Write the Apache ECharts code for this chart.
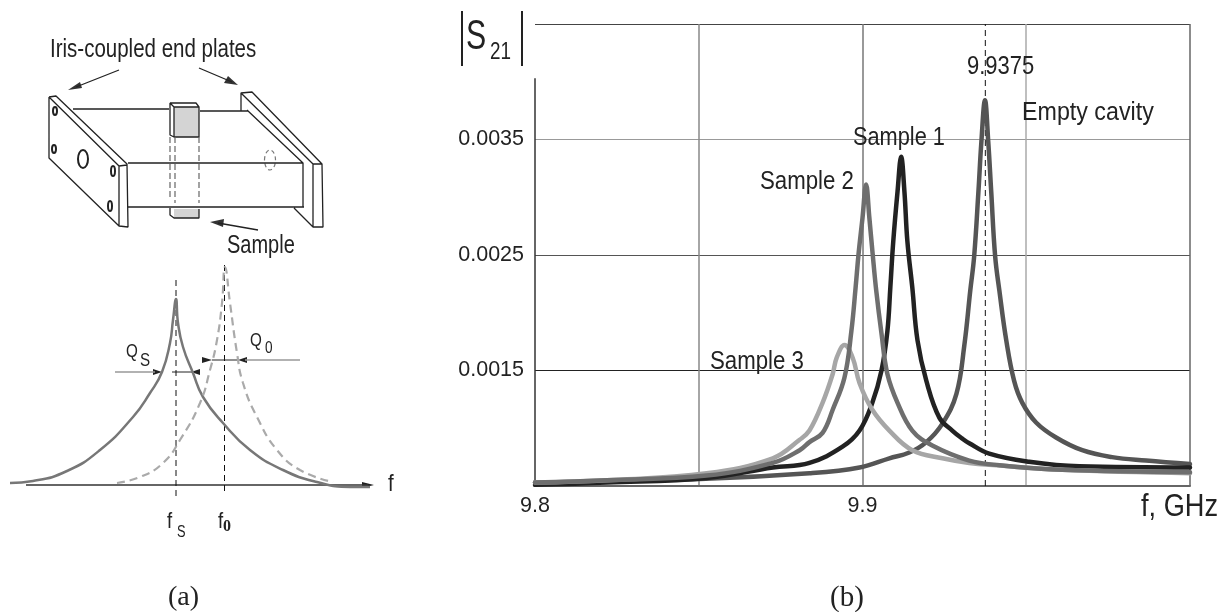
<!DOCTYPE html>
<html><head><meta charset="utf-8">
<style>html,body{margin:0;padding:0;background:#fff}#c{width:1229px;height:612px}</style>
<script src="https://cdn.jsdelivr.net/npm/echarts@6/dist/echarts.min.js"></script>
</head><body><div id="c"></div>
<script>
// ---- Panel (b): measured resonance curves
const emptyF = [9.8,9.8503,9.8838,9.8991,9.9082,9.9143,9.9195,9.9244,9.9287,9.9311,9.9329,9.9341,9.9354,9.9363,9.9374,9.9384,9.9393,9.9405,9.9418,9.9439,9.9463,9.9488,9.953,9.9591,9.9671,9.9762,9.9866,10];
const emptyS = [0.00053,0.00056,0.00061,0.00066,0.00074,0.00079,0.00088,0.00104,0.0013,0.00172,0.00219,0.00249,0.00305,0.00348,0.00384,0.00348,0.00305,0.00249,0.00219,0.00176,0.00141,0.00122,0.00105,0.00092,0.00081,0.00075,0.00072,0.00069];
const sample1F = [9.8,9.822,9.8524,9.8726,9.8838,9.8939,9.8991,9.903,9.9058,9.9076,9.9085,9.9094,9.9107,9.9118,9.9128,9.9137,9.9152,9.9168,9.9195,9.9235,9.9274,9.9305,9.9326,9.9387,9.9509,9.9662,10];
const sample1S = [0.00051,0.00053,0.00057,0.00066,0.0007,0.00084,0.00098,0.00122,0.0015,0.00184,0.00222,0.00262,0.00305,0.00335,0.00305,0.00262,0.00222,0.00176,0.00141,0.00109,0.00098,0.00091,0.00087,0.00078,0.00071,0.00067,0.00066];
const sample2F = [9.8,9.822,9.8524,9.8726,9.8808,9.8838,9.8878,9.8909,9.8945,9.8966,9.8979,9.8988,9.9,9.9011,9.9021,9.9031,9.9042,9.9058,9.9076,9.9107,9.9152,9.9213,9.9326,9.9418,9.961,10];
const sample2S = [0.00053,0.00055,0.00059,0.0007,0.00081,0.00088,0.00096,0.00116,0.00144,0.00184,0.00222,0.00251,0.00282,0.00311,0.00282,0.00251,0.00219,0.00182,0.00147,0.00122,0.00098,0.00085,0.00072,0.00068,0.00064,0.00062];
const sample3F = [9.8,9.822,9.8524,9.8726,9.8808,9.8838,9.8878,9.8909,9.8921,9.8945,9.897,9.8991,9.903,9.9082,9.9152,9.9244,9.9326,9.9409,9.961,10];
const sample3S = [0.00053,0.00055,0.00061,0.00074,0.0009,0.00098,0.00122,0.00147,0.00161,0.00172,0.00161,0.00139,0.00116,0.00098,0.00081,0.00074,0.0007,0.00068,0.00064,0.00061];
const markerF = 9.9375;
const yAxisTop = 0.00403;
const xTickLabels = ['9.8','9.9'];
const yTickLabels = ['0.0015','0.0025','0.0035'];
const seriesColors = {empty:'#555555',s1:'#222222',s2:'#6e6e6e',s3:'#a6a6a6'};

// ---- Panel (a): schematic drawing, in page units
const curveSolid = [[10,483],[33,481],[67,471],[100,450],[133,417],[150,393],[162,372],[170,343],[173,320],[176,299],[178,323],[183,347],[193,373],[203,397],[223,423],[250,450],[283,470],[317,482],[350,487],[370,487]];
const curveDashed = [[117,483],[140,477],[163,463],[180,440],[200,403],[210,370],[217,340],[222,303],[225,267],[230,303],[237,353],[243,383],[257,417],[277,450],[300,470],[333,482]];
const guides = [[[176,280],[176,497]],[[224.5,265],[224.5,494]]];
const baseLine = [[26,485],[368,485]];
const outline = [
 [[49,97],[56,96],[127,164],[128,227],[119,226],[49,158],[49,97]],
 [[49,97],[119,166],[119,226]],[[119,166],[127,165]],
 [[241,111],[241,93],[252,92],[322,164],[323,227],[313,227],[313,164],[241,93]],
 [[322,164],[313,164]],[[247,110],[303,163],[303,207]],[[294,208],[313,227]],
 [[73,109],[169,109]],[[200,111],[248,111]],[[128,163],[303,163]],[[128,207],[304,207]],
 [[170,103],[196,103],[199,107],[199,137],[174,137],[174,107],[170,103],[170,135],[174,137]],[[174,107],[199,107]],
 [[170,208],[170,215],[174,218],[199,218],[199,209]],
 [[119,70],[76,87]],[[199,68],[232,82]],[[258,230],[218,223]]
];
const hiddenEdges = [[[170,137],[170,200]],[[175,137],[175,203]],[[199,137],[199,203]]];
const qGrayLines = [[[115,372],[155,372]],[[245,360],[300,360]]];
const qBlackLines = [[[172,372],[192,372]],[[212,360],[238,360]]];
const solids = [
 {c:'#d4d4d4',p:[[174,107],[199,107],[199,137],[174,137]]},
 {c:'#d4d4d4',p:[[174,209],[199,209],[199,218],[174,218]]},
 {c:'#333',p:[[68,90],[80,82],[82,88]]},
 {c:'#333',p:[[238,85],[224,83],[228,76]]},
 {c:'#333',p:[[210,222],[224,219],[223,227]]},
 {c:'#222',p:[[374,485],[362,482],[362,488]]},
 {c:'#222',p:[[162,372],[153,369],[153,375]]},
 {c:'#222',p:[[191,372],[200,369],[200,375]]},
 {c:'#222',p:[[212,360],[202,357],[202,363]]},
 {c:'#222',p:[[238,360],[247,357],[247,363]]}
];
const holes = [[55,111,2,4,0],[54,149,2,4,0],[83,159,5,9,0],[113,171,2,5,0],[110,206,2,5,0],[270,160,5.5,10,1]];

const sans = '"Liberation Sans",sans-serif';
const serif = '"Liberation Serif",serif';
// text, x, y, size, horizontal squeeze, family
const texts = [
 ['Iris-coupled end plates',50,50,25,0.82,sans],['Sample',227,246,25,0.8,sans],
 ['Q',126,352,19,0.8,sans],['S',140,361,19,0.8,sans],['Q',250,341,19,0.8,sans],['0',265,348,17,0.8,sans],
 ['f',388,484,24,0.85,sans],['f',167,522,22,0.85,sans],['S',177,533,16,0.8,sans],['f',218,522,22,0.85,sans],
 ['(a)',168,598,28,1,serif],['(b)',830,598,29,1,serif],
 ['S',466,37,42,0.72,sans],['21',490,53,23,0.82,sans],
 ['9.9375',967,67,25,0.88,sans],['Empty cavity',1022,113,25,0.93,sans],['Sample 1',853,138,25,0.87,sans],
 ['Sample 2',760,182,25,0.89,sans],['Sample 3',710,362,25,0.89,sans],['f, GHz',1141,507,32,0.85,sans]
];
const bars = [[[462,11],[462,66]],[[522,11],[522,66]]];

const zip = (a,b)=>a.map((v,i)=>[v,b[i]]);
const breaks = list => list.flatMap((l,i)=> i ? [[null,null],...l] : l);
const dia = (name,data,color,width,type,extra) => Object.assign({
  name,type:'line',xAxisIndex:0,yAxisIndex:0,data,symbol:'none',silent:true,animation:false,connectNulls:false,
  lineStyle:{color,width,type:type||'solid',cap:'butt'}},extra||{});
const curve = (name,f,s,color) => ({
  name,type:'line',xAxisIndex:1,yAxisIndex:1,data:zip(f,s),symbol:'none',animation:false,silent:true,
  smooth:0.4,lineStyle:{color,width:4.5,cap:'round',join:'round'}});

const option = {
 backgroundColor:'#fff',animation:false,
 grid:[{left:0,top:0,width:1229,height:612},{left:535,top:24,width:655,height:462}],
 xAxis:[
  {gridIndex:0,type:'value',min:0,max:1229,show:false},
  {gridIndex:1,type:'value',min:9.8,max:10,interval:0.05,
   axisLine:{show:true,lineStyle:{color:'#666',width:2}},axisTick:{show:false},
   axisLabel:{margin:9,fontFamily:sans,fontSize:21.5,color:'#222',showMinLabel:true,hideOverlap:false,
     formatter:v=>{const t=(+v).toFixed(2);const l=(+v).toFixed(1);return (t===l+'0'&&xTickLabels.includes(l))?l:'';}},
   splitLine:{show:true,showMinLine:false,lineStyle:{color:['#888888','#777777','#aaaaaa','#666666'],width:1.5}}}
 ],
 yAxis:[
  {gridIndex:0,type:'value',min:0,max:612,inverse:true,show:false},
  {gridIndex:1,type:'value',min:0.0005,max:0.0045,interval:0.0005,
   axisLine:{show:false},axisTick:{show:false},
   axisLabel:{margin:11,fontFamily:sans,fontSize:21.5,color:'#222',
     formatter:v=>{const t=(+v).toFixed(4);return yTickLabels.includes(t)?t:'';}},
   splitLine:{show:true,showMinLine:false,lineStyle:{color:['transparent','#222222','transparent','#555555','transparent','#999999','transparent','#444444'],width:1.2}}}
 ],
 series:[
  dia('outline',breaks(outline),'#222',1.3),
  dia('hidden edges',breaks(hiddenEdges),'#666',1.2,[6,3]),
  dia('Q gray',breaks(qGrayLines),'#999',1.3),
  dia('Q black',breaks(qBlackLines),'#222',1),
  dia('base',baseLine,'#333',1.5),
  dia('guides',breaks(guides),'#111',1,[6,4]),
  dia('solid curve',curveSolid,'#777',2.5,'solid',{smooth:0.5}),
  dia('dashed curve',curveDashed,'#aaa',2.2,[8,5],{smooth:0.5}),
  dia('bars',breaks(bars),'#222',2),
  {name:'solids',type:'custom',xAxisIndex:0,yAxisIndex:0,silent:true,animation:false,
   data:solids.map((s,i)=>[s.p[0][0],s.p[0][1],i]),
   renderItem:(p,api)=>{const s=solids[api.value(2)];return {type:'polygon',shape:{points:s.p.map(q=>api.coord(q))},style:{fill:s.c}};}},
  {name:'holes',type:'custom',xAxisIndex:0,yAxisIndex:0,silent:true,animation:false,
   data:holes,
   renderItem:(p,api)=>{const c=api.coord([api.value(0),api.value(1)]);const d=api.value(4);
     return {type:'ellipse',shape:{cx:c[0],cy:c[1],rx:api.value(2),ry:api.value(3)},
       style:{fill:'none',stroke:d?'#777':'#222',lineWidth:d?1.2:2,lineDash:d?[4,3]:null}};}},
  {name:'y axis',type:'line',xAxisIndex:1,yAxisIndex:1,data:[[9.8,0.0005],[9.8,yAxisTop]],symbol:'none',silent:true,animation:false,
   lineStyle:{color:'#333',width:1.5}},
  {name:'9.9375',type:'line',xAxisIndex:1,yAxisIndex:1,data:[[markerF,0.0005],[markerF,0.0045]],symbol:'none',silent:true,animation:false,
   lineStyle:{color:'#111',width:1,type:[6,4]}},
  curve('Empty cavity',emptyF,emptyS,seriesColors.empty),
  curve('Sample 1',sample1F,sample1S,seriesColors.s1),
  curve('Sample 3',sample3F,sample3S,seriesColors.s3),
  curve('Sample 2',sample2F,sample2S,seriesColors.s2)
 ],
 graphic:{elements:texts.map(t=>({type:'text',x:t[1],y:t[2],scaleX:t[4],silent:true,z:20,
   style:{text:t[0],font:t[3]+'px '+t[5],fill:'#222',verticalAlign:'middle'}}))
   .concat([{type:'text',x:223,y:527,silent:true,z:20,style:{text:'0',font:'bold 16px "Liberation Serif",serif',fill:'#222',verticalAlign:'middle'}}])}
};
echarts.init(document.getElementById('c'),null,{renderer:'canvas'}).setOption(option);
</script></body></html>
